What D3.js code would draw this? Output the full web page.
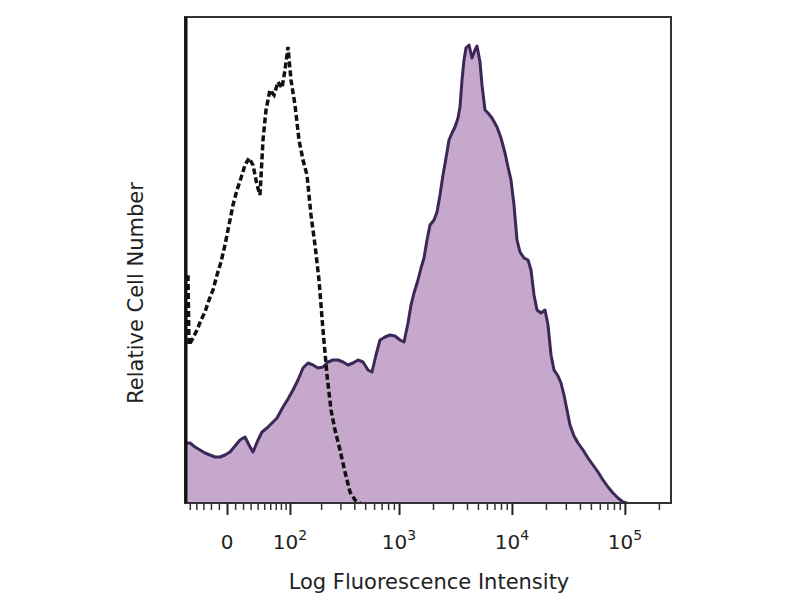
<!DOCTYPE html>
<html>
<head>
<meta charset="utf-8">
<script src="https://cdn.jsdelivr.net/npm/d3@7"></script>
<style>
  body { margin: 0; background: #fff; }
  text { font-family: "DejaVu Sans", Verdana, sans-serif; fill: #222; }
</style>
</head>
<body>
<div id="chart"></div>
<script>
// stained sample histogram (channel, count)
var stainedChannel = [2,10,20,30,40,50,60,70,80,90,100,110,120,128,136,146,154,164,174,184,196,206,216,226,236,246,256,266,276,286,296,306,316,326,336,346,356,366,374,382,390,400,410,420,430,438,446,452,458,466,472,478,484,490,498,504,510,516,522,528,534,540,546,550,554,558,562,568,574,580,584,590,594,600,606,614,624,632,640,646,652,658,664,670,678,686,692,698,704,712,720,726,732,738,746,752,758,764,770,778,786,796,806,816,826,836,846,856,866,876,884];
var stainedCount = [120,120,112,106,100,96,92,92,96,102,114,126,132,116,102,126,142,150,160,170,192,208,226,246,270,280,276,270,272,282,286,286,282,276,280,286,282,266,262,296,326,332,336,334,326,322,360,396,420,446,470,490,526,556,566,582,616,656,690,726,740,752,770,792,846,886,910,916,890,906,914,882,836,786,780,770,752,730,700,672,646,596,526,502,490,486,466,416,386,380,386,356,296,266,254,240,216,186,156,134,120,106,90,76,62,46,32,20,10,2,0];

// isotype control histogram (dashed)
var isoChannel = [2,6,8,16,24,32,40,48,56,64,72,80,88,96,104,112,120,128,136,144,150,156,162,170,178,186,194,200,206,212,220,228,236,244,252,260,268,276,284,292,300,310,320,330,340,350];
var isoCount = [452,452,316,330,346,366,382,406,426,456,482,516,556,596,626,650,676,690,676,636,616,726,786,826,816,842,830,866,912,846,796,726,686,656,576,516,446,346,256,186,146,106,62,22,6,0];

var majorTicks = [0, 1e2, 1e3, 1e4, 1e5];
var majorLabels = [["0", ""], ["10", "2"], ["10", "3"], ["10", "4"], ["10", "5"]];

var width = 800, height = 600;
var margin = {top: 17, right: 129, bottom: 97, left: 185};
var w = width - margin.left - margin.right,
    h = height - margin.top - margin.bottom;

// display transform (logicle-like, via arcsinh) from intensity to channel
function toChannel(v) {
  return 84 + 98.1 * Math.asinh(v / 60);
}

var x = d3.scaleLinear().domain([0, 972]).range([0, w]);
var y = d3.scaleLinear().domain([0, 972]).range([h, 0]);

var svg = d3.select("#chart")
  .append("svg")
  .attr("width", width)
  .attr("height", height)
  .append("g")
  .attr("transform", "translate(" + margin.left + "," + margin.top + ")");

var stained = stainedChannel.map(function(c, i) { return [c, stainedCount[i]]; });
var iso = isoChannel.map(function(c, i) { return [c, isoCount[i]]; });

var area = d3.area()
  .x(function(d) { return x(d[0]); })
  .y0(h)
  .y1(function(d) { return y(d[1]); });

var line = d3.line()
  .x(function(d) { return x(d[0]); })
  .y(function(d) { return y(d[1]); });

svg.append("path")
  .datum(stained)
  .attr("d", area)
  .attr("fill", "#c5a8cc");

svg.append("path")
  .datum(stained)
  .attr("d", line)
  .attr("fill", "none")
  .attr("stroke", "#3b2858")
  .attr("stroke-width", 3)
  .attr("stroke-linejoin", "round");

svg.append("path")
  .datum(iso)
  .attr("d", line)
  .attr("fill", "none")
  .attr("stroke", "#111")
  .attr("stroke-width", 3.5)
  .attr("stroke-dasharray", "6,3");

// frame
svg.append("rect")
  .attr("x", 0).attr("y", 0)
  .attr("width", w).attr("height", h)
  .attr("fill", "none")
  .attr("stroke", "#333")
  .attr("stroke-width", 2);

svg.append("line")
  .attr("x1", 1).attr("x2", 1)
  .attr("y1", 0).attr("y2", h)
  .attr("stroke", "#111")
  .attr("stroke-width", 3);

// minor ticks
var minor = [];
[-50, -40, -30, -20, -10].forEach(function(v) { minor.push(v); });
for (var k = 1; k < 10; k++) minor.push(k * 10);
[1e2, 1e3, 1e4, 1e5].forEach(function(base) {
  for (var m = 2; m < 10; m++) minor.push(base * m);
});
minor = minor.filter(function(v) { return toChannel(v) > 0 && toChannel(v) < 972; });

svg.append("g")
  .attr("transform", "translate(0," + h + ")")
  .call(d3.axisBottom(x)
    .tickValues(minor.map(toChannel))
    .tickSize(7)
    .tickFormat(""))
  .call(function(g) {
    g.select(".domain").remove();
    g.selectAll("line").attr("stroke", "#333").attr("stroke-width", 1.5);
  });

var xAxis = svg.append("g")
  .attr("transform", "translate(0," + h + ")")
  .call(d3.axisBottom(x)
    .tickValues(majorTicks.map(toChannel))
    .tickSize(12)
    .tickFormat(""))
  .call(function(g) {
    g.select(".domain").remove();
    g.selectAll("line").attr("stroke", "#222").attr("stroke-width", 2);
  });

var labels = svg.append("g")
  .selectAll("text")
  .data(majorTicks)
  .enter().append("text")
  .attr("x", function(d) { return x(toChannel(d)); })
  .attr("y", h + 46)
  .attr("text-anchor", "middle")
  .style("font-size", "20px");

labels.append("tspan")
  .text(function(d, i) { return majorLabels[i][0]; });
labels.append("tspan")
  .attr("dy", -9)
  .style("font-size", "14px")
  .text(function(d, i) { return majorLabels[i][1]; });

svg.append("text")
  .attr("x", 244)
  .attr("y", h + 86)
  .attr("text-anchor", "middle")
  .style("font-size", "21px")
  .text("Log Fluorescence Intensity");

svg.append("text")
  .attr("transform", "translate(-42," + (h / 2 + 33) + ") rotate(-90)")
  .attr("text-anchor", "middle")
  .style("font-size", "21px")
  .text("Relative Cell Number");
</script>
</body>
</html>
